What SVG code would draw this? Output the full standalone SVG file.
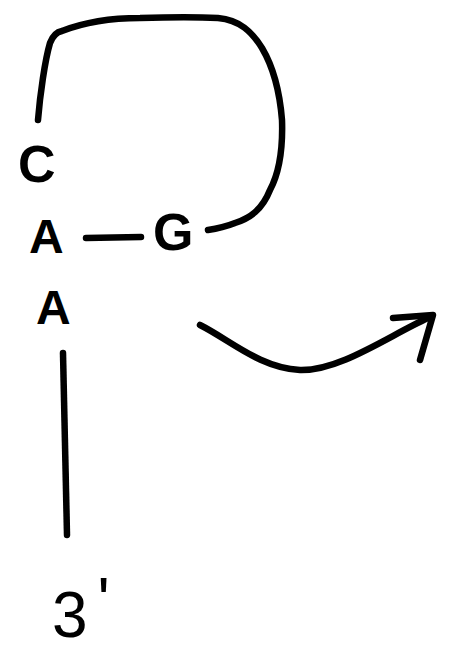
<svg xmlns="http://www.w3.org/2000/svg" width="458" height="659" viewBox="0 0 458 659">
<style>
.lbl{font-family:"Liberation Sans",Arial,sans-serif;font-weight:bold;fill:#000}
.ln{fill:none;stroke:#000;stroke-width:6.5;stroke-linecap:round;stroke-linejoin:round}
</style>
<rect width="458" height="659" fill="#fff"/>
<g id="connectors">
<path class="ln" d="M38,120 C40,95 45,60 50,43 C53,35 57,32 62,31 C85,22 110,18 140,18 C170,17 200,17 218,18 C240,20 252,32 262,48 C275,70 280,95 282,120 C283,150 278,175 270,190 C262,210 250,218 235,223 C225,227 215,229 208,230"/>
<path class="ln" d="M86,238 L141,237"/>
<path class="ln" d="M63,353 L67,535"/>
<path class="ln" d="M200,325 C230,340 260,368 300,370 C340,371 390,335 428,318"/>
<path class="ln" d="M393,318 L433,315 L420,360"/>
</g>
<g id="node-C"><text class="lbl" x="18" y="182" font-size="52">C</text></g>
<g id="node-A1"><text class="lbl" x="29" y="253" font-size="48">A</text></g>
<g id="node-G"><text class="lbl" x="153" y="250" font-size="52">G</text></g>
<g id="node-A2"><text class="lbl" x="36" y="324" font-size="48">A</text></g>
<g id="node-3prime"><text x="52" y="637" font-size="64" font-family="Liberation Sans, Arial, sans-serif" fill="#000">3<tspan dx="10" dy="-14">'</tspan></text></g>
</svg>
